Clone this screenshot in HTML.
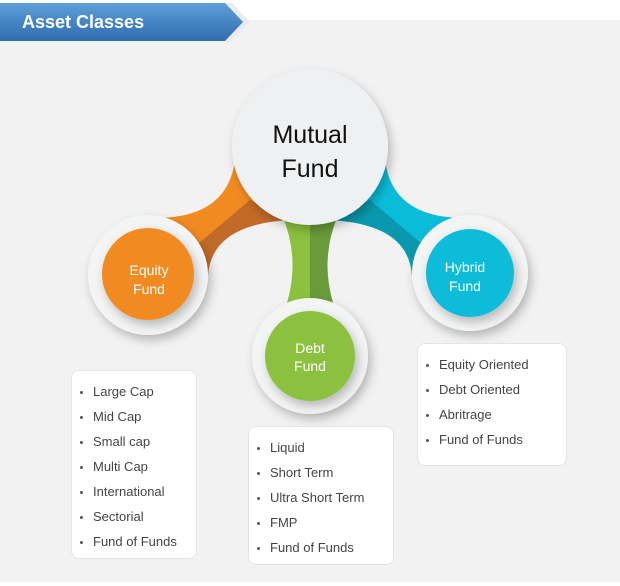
<!DOCTYPE html>
<html><head><meta charset="utf-8"><style>
body{margin:0;width:620px;height:586px;background:#fff;font-family:"Liberation Sans",sans-serif;overflow:hidden;position:relative}
.bg{position:absolute;left:0;top:20px;width:620px;height:562px;background:#f2f2f2}
.box{position:absolute;background:#fff;border:1px solid #e4e4e4;border-radius:8px;box-sizing:border-box}
.box ul{margin:0;padding:0;list-style:none}
.box li{position:relative;height:25px;line-height:25px;font-size:13px;color:#444;padding-left:21px}
.box li:before{content:"";position:absolute;left:8px;top:12px;width:3px;height:3px;border-radius:50%;background:#555}
</style></head><body>
<div class="bg"></div>
<svg width="620" height="586" style="position:absolute;left:0;top:0">
<defs>
<linearGradient id="bl" x1="0" y1="0" x2="0" y2="1"><stop offset="0" stop-color="#5f9fd8"/><stop offset="1" stop-color="#2e6cb0"/></linearGradient>
<filter id="sh" x="-30%" y="-30%" width="160%" height="160%"><feDropShadow dx="3" dy="5" stdDeviation="5" flood-color="#000" flood-opacity="0.25"/></filter>
</defs>
<polygon points="0,3 232,3 250,22 232,41 0,41" fill="#e8ecef"/>
<polygon points="0,3 225,3 243,22 225,41 0,41" fill="url(#bl)"/>
<text x="22" y="28" fill="#fff" font-size="18" font-weight="bold">Asset Classes</text>
<path d="M235,160 Q228,216 160,218 L208,275 Q212,224 290,220 Z" fill="#f28a22"/>
<path d="M250,200 L185,255 L208,275 Q212,224 290,220 Z" fill="#b5612a" opacity="0.8"/>
<path d="M385,160 Q392,216 460,218 L412,275 Q408,224 330,220 Z" fill="#0bbcd9"/>
<path d="M370,200 L435,255 L412,275 Q408,224 330,220 Z" fill="#0a8fa3" opacity="0.8"/>
<path d="M282,215 Q302,262 284,312 L336,312 Q318,262 338,215 Z" fill="#8cc13f"/>
<path d="M310,215 L310,312 L336,312 Q318,262 338,215 Z" fill="#6a9b3a"/>
<circle cx="310" cy="147" r="78" fill="#eef0f1" filter="url(#sh)"/>
<circle cx="148" cy="275" r="60" fill="#f3f4f4" filter="url(#sh)"/>
<circle cx="148" cy="274" r="46" fill="#f28a22" filter="url(#sh)"/>
<circle cx="310" cy="356" r="58" fill="#f3f4f4" filter="url(#sh)"/>
<circle cx="310" cy="356" r="45" fill="#8cc13f" filter="url(#sh)"/>
<circle cx="470" cy="273" r="58" fill="#f3f4f4" filter="url(#sh)"/>
<circle cx="470" cy="273" r="44" fill="#0bbcd9" filter="url(#sh)"/>
<g font-size="25" fill="#111" text-anchor="middle"><text x="310" y="143">Mutual</text><text x="310" y="177">Fund</text></g>
<g font-size="14" fill="#fff" text-anchor="middle">
<text x="149" y="275">Equity</text><text x="149" y="294">Fund</text>
<text x="310" y="353">Debt</text><text x="310" y="371">Fund</text>
<text x="465" y="272">Hybrid</text><text x="465" y="291">Fund</text>
</g>
</svg>
<div class="box" style="left:71px;top:370px;width:126px;height:189px;padding-top:8px"><ul><li>Large Cap</li><li>Mid Cap</li><li>Small cap</li><li>Multi Cap</li><li>International</li><li>Sectorial</li><li>Fund of Funds</li></ul></div>
<div class="box" style="left:248px;top:426px;width:146px;height:139px;padding-top:8px"><ul><li>Liquid</li><li>Short Term</li><li>Ultra Short Term</li><li>FMP</li><li>Fund of Funds</li></ul></div>
<div class="box" style="left:417px;top:343px;width:150px;height:123px;padding-top:8px"><ul><li>Equity Oriented</li><li>Debt Oriented</li><li>Abritrage</li><li>Fund of Funds</li></ul></div>
</body></html>
